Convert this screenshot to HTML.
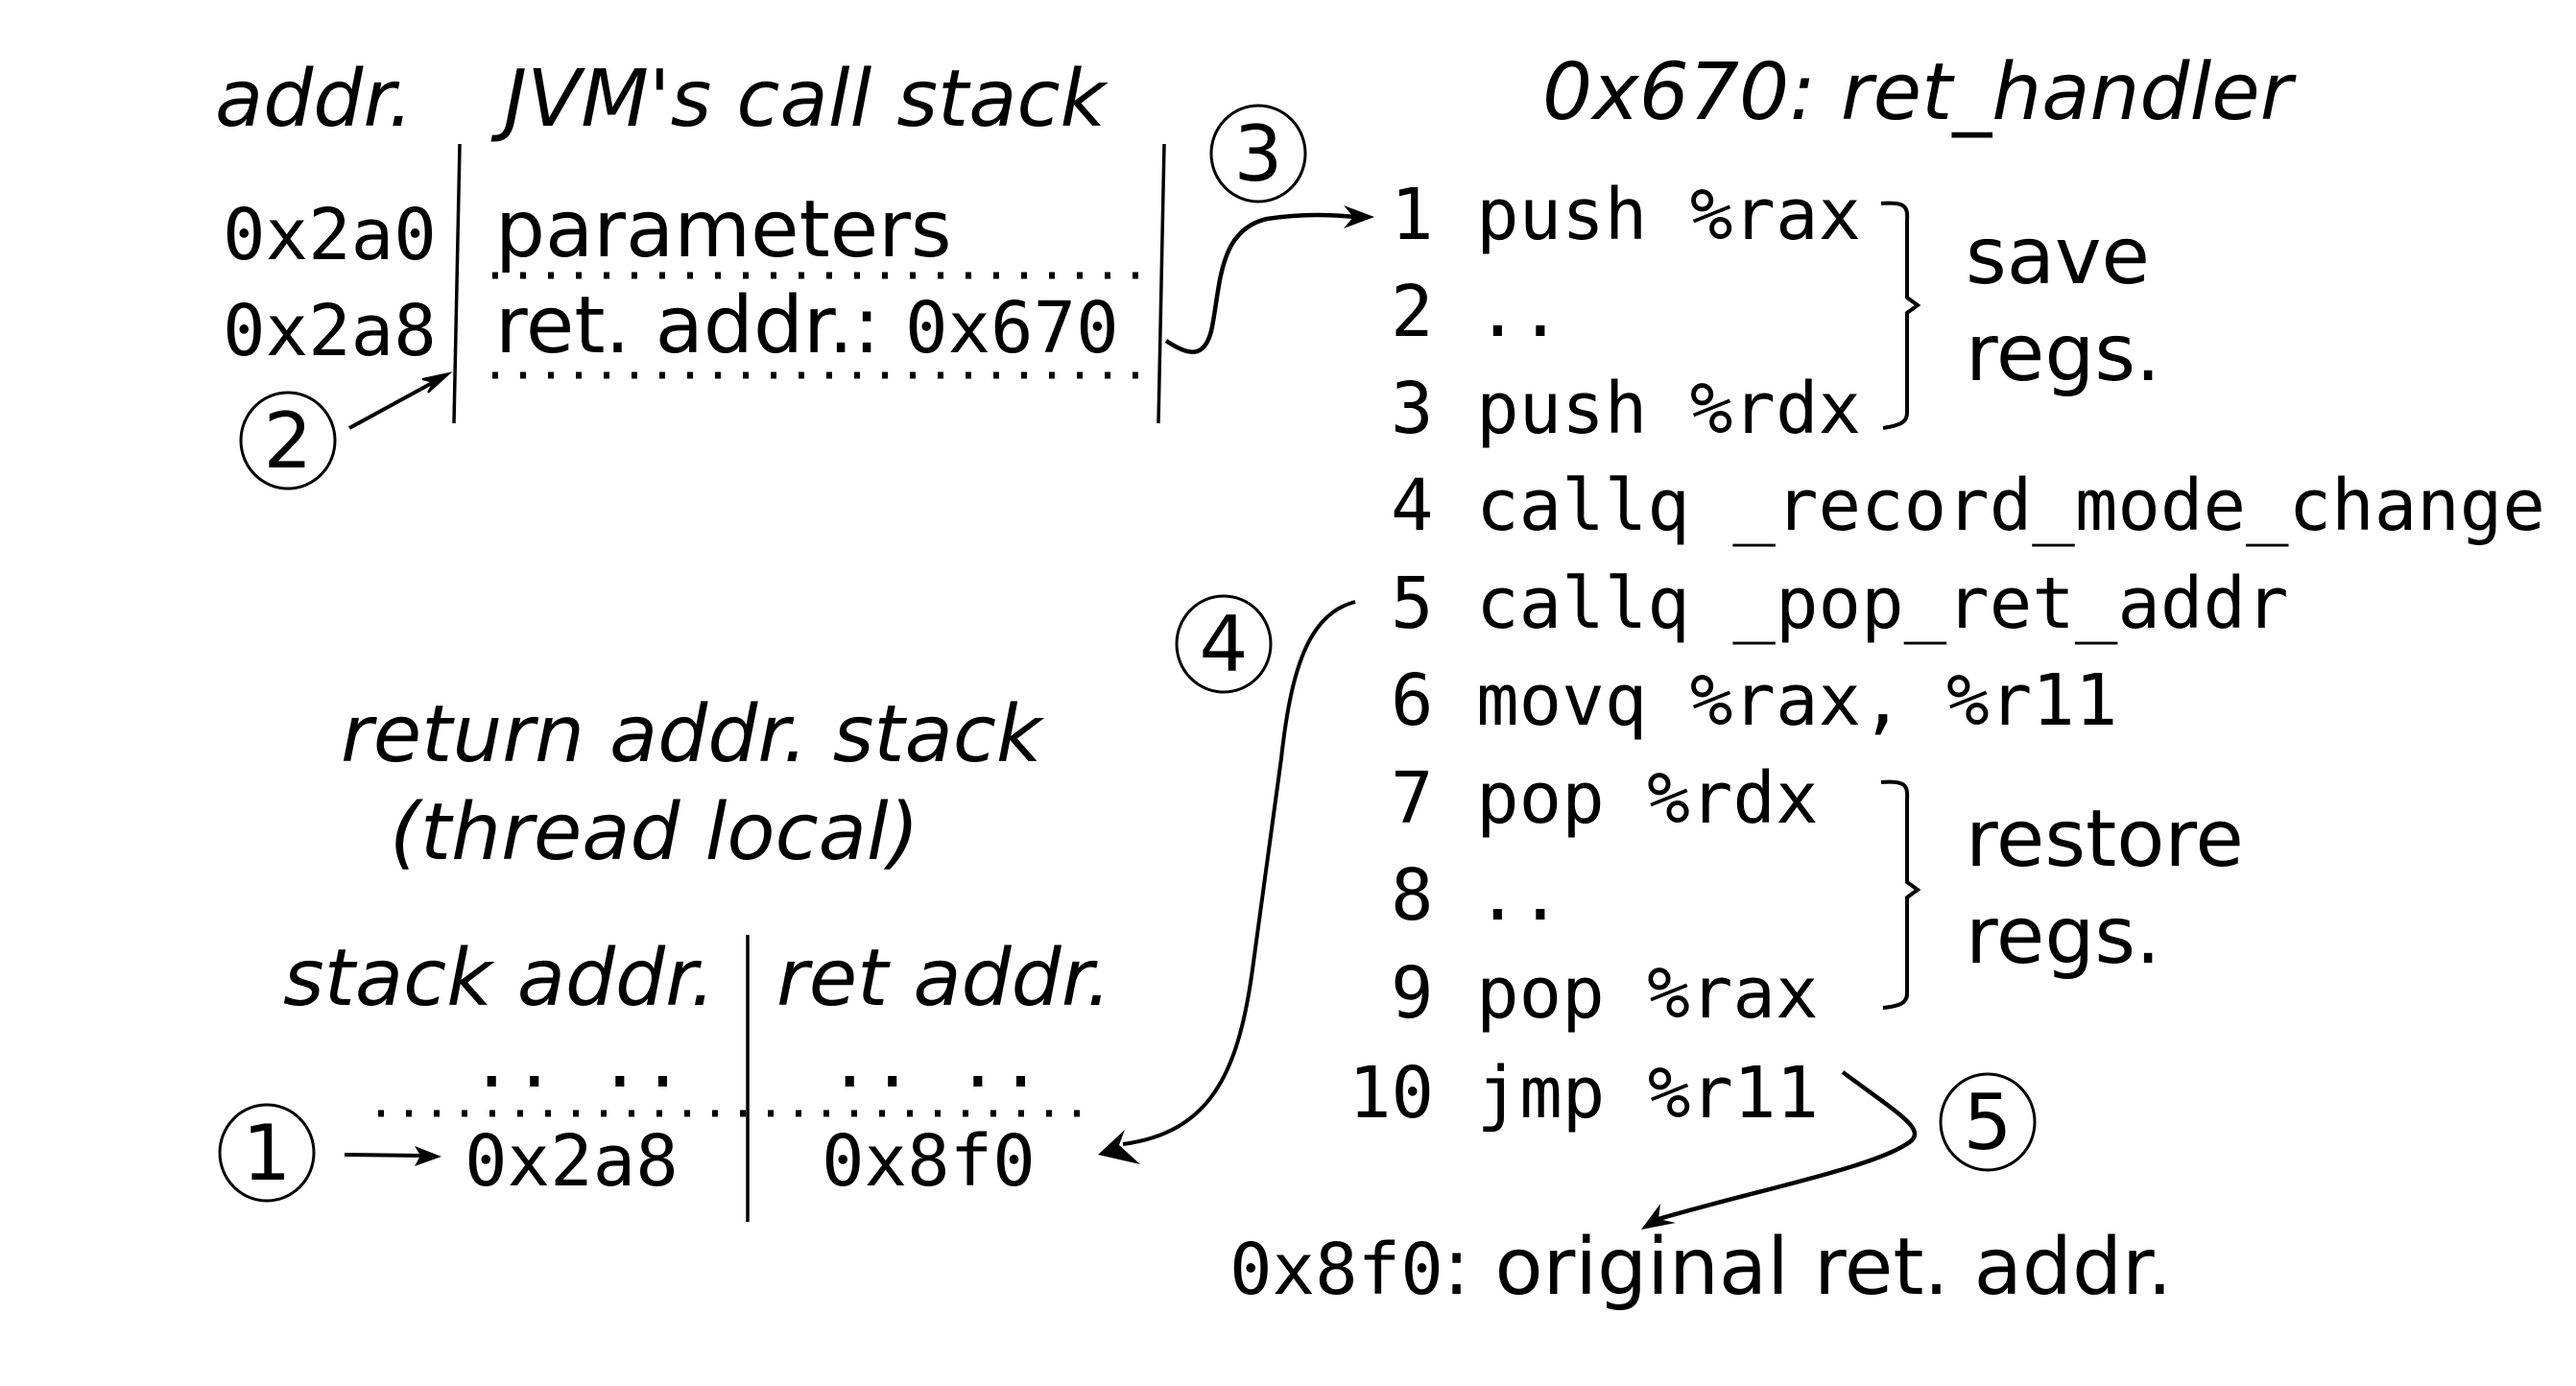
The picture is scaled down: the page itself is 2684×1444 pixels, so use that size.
<!DOCTYPE html>
<html><head><meta charset="utf-8"><style>
html,body{margin:0;padding:0;background:#fff;}
svg{display:block;}
text{font-family:"DejaVu Sans","Liberation Sans",sans-serif;font-size:82px;fill:#000;}
.it{font-style:italic;}
.mono{font-family:"DejaVu Sans Mono","Liberation Mono",monospace;font-size:74px;}
.num{font-size:80px;}
</style></head><body>
<svg width="2684" height="1444" viewBox="0 0 2684 1444" xmlns="http://www.w3.org/2000/svg">
<!-- JVM call stack -->
<text x="224" y="131" class="it">addr.</text>
<text x="525" y="131" class="it">JVM's call stack</text>
<text x="232" y="270" class="mono">0x2a0</text>
<text x="232" y="370" class="mono">0x2a8</text>
<text x="516" y="267">parameters</text>
<text x="516" y="367">ret. addr.: <tspan class="mono">0x670</tspan></text>
<line x1="479" y1="150" x2="473" y2="441" stroke="#000" stroke-width="3.5"/>
<line x1="1213" y1="150" x2="1207" y2="441" stroke="#000" stroke-width="3.5"/>
<line x1="513" y1="287" x2="1204" y2="287" stroke="#000" stroke-width="7" stroke-dasharray="6 23"/>
<line x1="513" y1="391" x2="1204" y2="391" stroke="#000" stroke-width="7" stroke-dasharray="6 23"/>
<!-- circle 2 -->
<ellipse cx="300" cy="459" rx="49" ry="50" fill="none" stroke="#000" stroke-width="3"/>
<text x="300" y="487" text-anchor="middle" class="num">2</text>
<line x1="364" y1="446" x2="452" y2="398" stroke="#000" stroke-width="4"/>
<polygon points="468,389 440,395 452,398 446,409" fill="#000" stroke="#000" stroke-width="2"/>
<!-- circle 3 -->
<ellipse cx="1311" cy="160" rx="49" ry="50" fill="none" stroke="#000" stroke-width="3"/>
<text x="1311" y="188" text-anchor="middle" class="num">3</text>
<path d="M1215,355 C1240,372 1255,372 1262,345 C1272,300 1268,240 1320,228 C1360,222 1390,224 1412,226" fill="none" stroke="#000" stroke-width="4.5"/>
<polygon points="1432,226 1400,214 1410,226 1400,238" fill="#000"/>
<!-- handler -->
<text x="1607" y="124" class="it">0x670: ret_handler</text>
<text x="1449" y="249" class="mono">1 push %rax</text>
<text x="1449" y="350" class="mono">2 ..</text>
<text x="1449" y="451" class="mono">3 push %rdx</text>
<text x="1449" y="552" class="mono">4 callq _record_mode_change</text>
<text x="1449" y="654" class="mono">5 callq _pop_ret_addr</text>
<text x="1449" y="755" class="mono">6 movq %rax, %r11</text>
<text x="1449" y="857" class="mono">7 pop %rdx</text>
<text x="1449" y="958" class="mono">8 ..</text>
<text x="1449" y="1060" class="mono">9 pop %rax</text>
<text x="1405" y="1164" class="mono">10 jmp %r11</text>
<!-- braces -->
<path d="M1960,212 C1985,210 1988,215 1987,230 L1987,310 L1998,318 L1987,326 L1987,430 C1987,440 1980,443 1962,446" fill="none" stroke="#000" stroke-width="4"/>
<text x="2048" y="295">save</text>
<text x="2048" y="396">regs.</text>
<path d="M1960,815 C1985,813 1988,818 1987,833 L1987,919 L1998,927 L1987,935 L1987,1035 C1987,1045 1980,1048 1962,1050" fill="none" stroke="#000" stroke-width="4"/>
<text x="2048" y="902">restore</text>
<text x="2048" y="1003">regs.</text>
<!-- circle 5 -->
<ellipse cx="2071" cy="1169" rx="49" ry="50" fill="none" stroke="#000" stroke-width="3"/>
<text x="2071" y="1197" text-anchor="middle" class="num">5</text>
<path d="M1920,1117 C1975,1158 2005,1175 1992,1188 C1960,1215 1830,1240 1728,1270" fill="none" stroke="#000" stroke-width="4.5"/>
<polygon points="1710,1281 1730,1254 1728,1270 1746,1274" fill="#000"/>
<text x="1281" y="1348"><tspan class="mono">0x8f0</tspan>: original ret. addr.</text>
<!-- circle 4 -->
<ellipse cx="1275" cy="671" rx="49" ry="50" fill="none" stroke="#000" stroke-width="3"/>
<text x="1275" y="699" text-anchor="middle" class="num">4</text>
<path d="M1412,627 C1362,640 1345,700 1335,790 L1305,1010 C1290,1120 1260,1180 1170,1192" fill="none" stroke="#000" stroke-width="4"/>
<polygon points="1144,1203 1172,1177 1166,1193 1188,1213" fill="#000"/>
<!-- return addr stack -->
<text x="355" y="793" class="it">return addr. stack</text>
<text x="406" y="895" class="it">(thread local)</text>
<text x="295" y="1047" class="it">stack addr.</text>
<text x="809" y="1047" class="it">ret addr.</text>
<line x1="779" y1="974" x2="779" y2="1273" stroke="#000" stroke-width="3.5"/>
<text x="490" y="1132" class="mono">.. ..</text>
<text x="863" y="1132" class="mono">.. ..</text>
<line x1="394" y1="1160" x2="1125" y2="1160" stroke="#000" stroke-width="7" stroke-dasharray="6 23"/>
<text x="484" y="1235" class="mono">0x2a8</text>
<text x="856" y="1235" class="mono">0x8f0</text>
<!-- circle 1 -->
<ellipse cx="278" cy="1201" rx="49" ry="50" fill="none" stroke="#000" stroke-width="3"/>
<text x="278" y="1229" text-anchor="middle" class="num">1</text>
<line x1="359" y1="1203" x2="440" y2="1204" stroke="#000" stroke-width="4"/>
<polygon points="460,1205 432,1194 438,1204 432,1215" fill="#000"/>
</svg>
</body></html>
